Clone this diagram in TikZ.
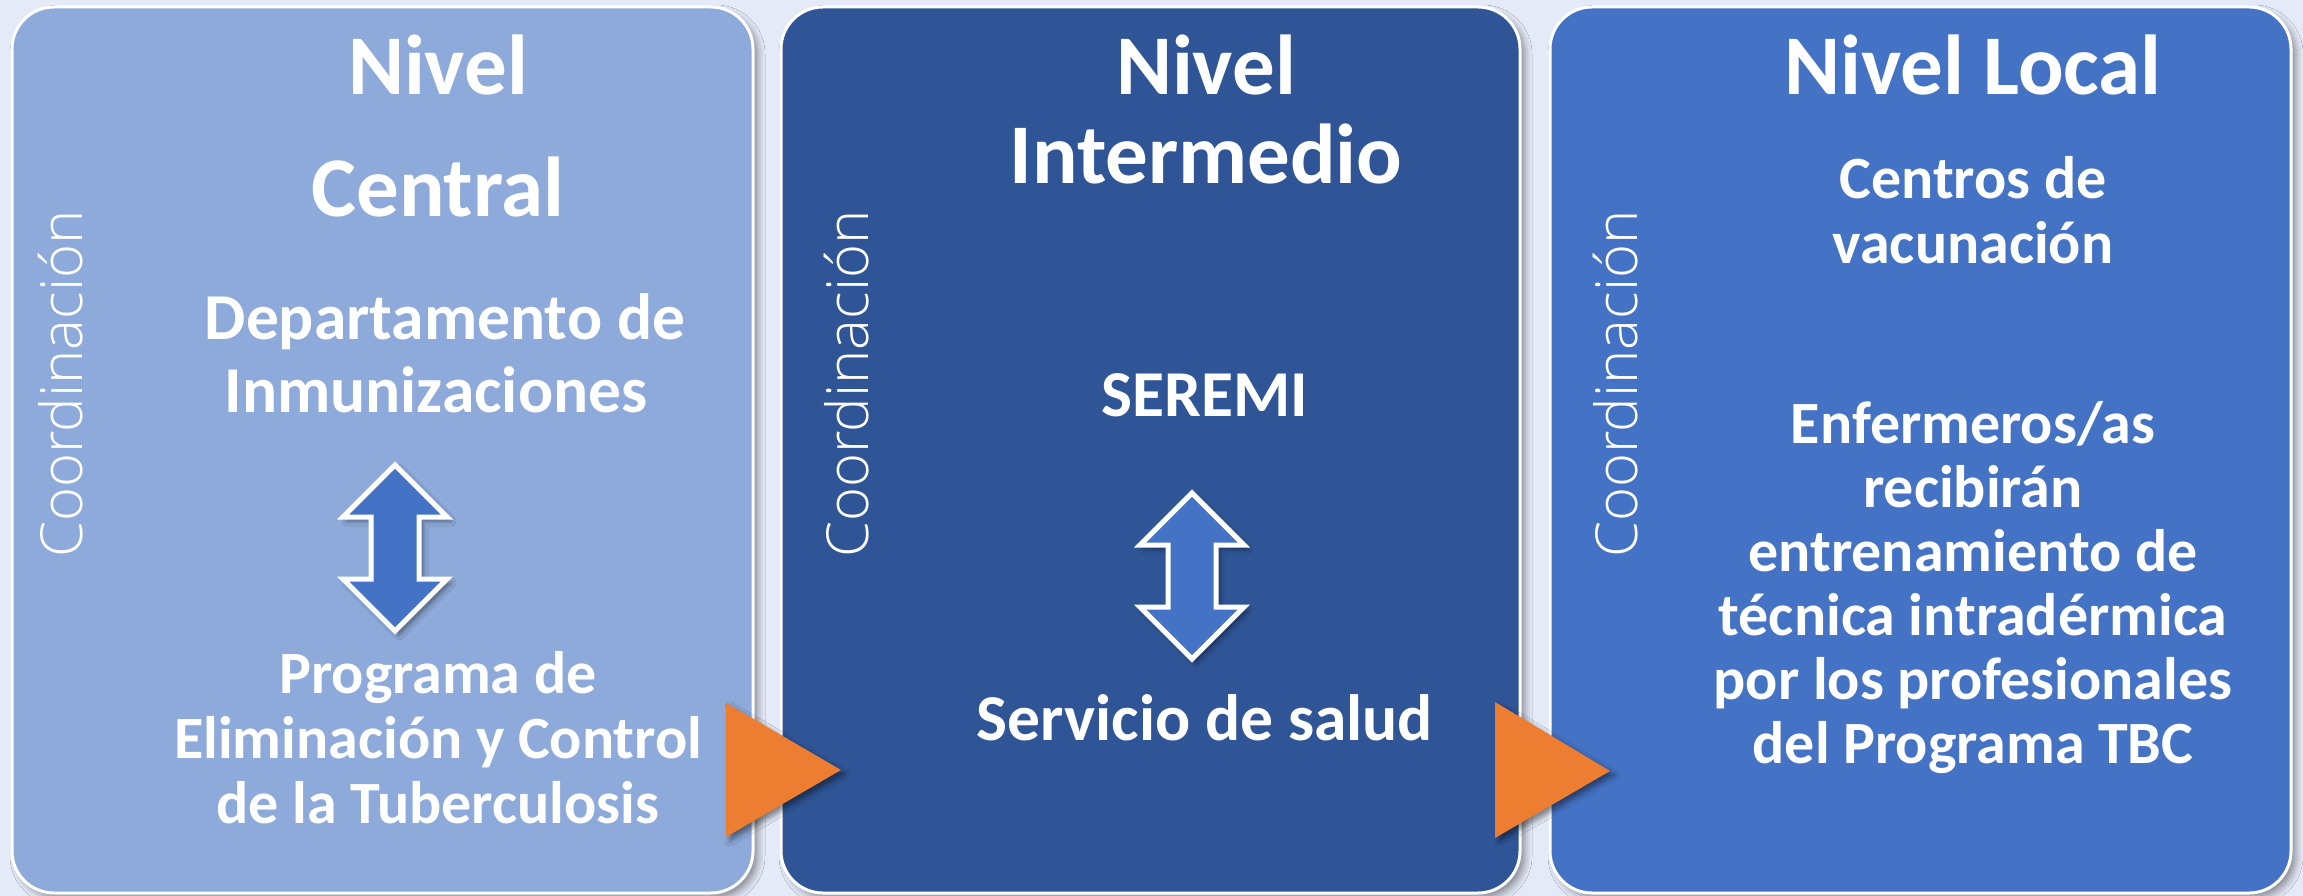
\documentclass[tikz,border=0pt]{standalone}
\usepackage{fontspec}
\setmainfont{Carlito}
\newfontfamily\coordfont{Open Sans Light}
\usetikzlibrary{shadows.blur}
\definecolor{bgc}{HTML}{E4EAF7}
\definecolor{pone}{HTML}{8EAADB}
\definecolor{ptwo}{HTML}{2F5597}
\definecolor{pthree}{HTML}{4472C4}
\definecolor{arrowblue}{HTML}{4472C4}
\definecolor{orangetri}{HTML}{ED7D31}
\tikzset{
  panel/.style={draw=white, line width=3pt, rounded corners=42pt, minimum height=886pt, inner sep=0pt,
    blur shadow={shadow xshift=5pt, shadow yshift=-5pt, shadow opacity=40, shadow blur radius=7pt}},
  title/.style={text=white, font=\bfseries\fontsize{85}{90}\selectfont, inner sep=0pt, anchor=base},
  body/.style={text=white, font=\bfseries\fontsize{60}{66}\selectfont, inner sep=0pt, anchor=base},
  bodylarge/.style={text=white, font=\bfseries\fontsize{65.5}{72}\selectfont, inner sep=0pt, anchor=base},
  coord/.style={text=white, font=\coordfont\fontsize{58}{62}\selectfont, inner sep=0pt, anchor=base, rotate=90},
  tri/.style={fill=orangetri, blur shadow={shadow xshift=4pt, shadow yshift=-4pt, shadow opacity=45, shadow blur radius=5pt}},
  dblarrow/.pic={
    \draw[white, line width=5pt, fill=arrowblue, line join=miter,
      blur shadow={shadow xshift=4pt, shadow yshift=-4pt, shadow opacity=45, shadow blur radius=5pt}]
      (0,-83) -- (52,-31) -- (24,-31) -- (24,31) -- (52,31) -- (0,83) -- (-52,31) -- (-24,31) -- (-24,-31) -- (-52,-31) -- cycle;
  }
}
\begin{document}
\begin{tikzpicture}[x=1pt,y=-1pt]
\useasboundingbox (0,0) rectangle (2303,896);
\fill[bgc] (0,0) rectangle (2303,896);

% panels
\node[panel, fill=pone, minimum width=741pt] (pA) at (382.5,450) {};
\node[panel, fill=ptwo, minimum width=739pt] (pB) at (1150.5,450) {};
\node[panel, fill=pthree, minimum width=741pt] (pC) at (1920.5,450) {};

% vertical labels
\node[coord] (cA) at (82,384) {Coordinación};
\node[coord] (cB) at (868,384) {Coordinación};
\node[coord] (cC) at (1637,384) {Coordinación};

% panel 1
\node[title] (a1) at (438,95) {Nivel};
\node[title] (a2) at (438,217) {Central};
\node[bodylarge] (a3) at (445,339) {Departamento de};
\node[bodylarge] (a4) at (436,412) {Inmunizaciones};
\node[body] (a5) at (438,693) {Programa de};
\node[body] (a6) at (438,758) {Eliminación y Control};
\node[body] (a7) at (438,823) {de la Tuberculosis};
\pic (arA) at (395,548) {dblarrow};

% panel 2
\node[title] (b1) at (1206,95) {Nivel};
\node[title] (b2) at (1206,184) {Intermedio};
\node[bodylarge] (b3) at (1205,416) {SEREMI};
\node[bodylarge] (b4) at (1205,740) {Servicio de salud};
\pic (arB) at (1192,576) {dblarrow};

% panel 3
\node[title] (c1) at (1973,95) {Nivel Local};
\node[body] (c2) at (1973,199) {Centros de};
\node[body] (c3) at (1973,263) {vacunación};
\node[body] (c4) at (1973,443) {Enfermeros/as};
\node[body] (c5) at (1973,507) {recibirán};
\node[body] (c6) at (1973,571) {entrenamiento de};
\node[body] (c7) at (1973,635) {técnica intradérmica};
\node[body] (c8) at (1973,699) {por los profesionales};
\node[body] (c9) at (1973,763) {del Programa TBC};

% orange triangles
\coordinate (tA1) at (726,703);
\coordinate (tA2) at (841,770);
\coordinate (tA3) at (726,837);
\fill[tri] (tA1) -- (tA2) -- (tA3) -- cycle;
\coordinate (tB1) at (1495,702);
\coordinate (tB2) at (1610,771);
\coordinate (tB3) at (1495,838);
\fill[tri] (tB1) -- (tB2) -- (tB3) -- cycle;
\end{tikzpicture}
\end{document}
